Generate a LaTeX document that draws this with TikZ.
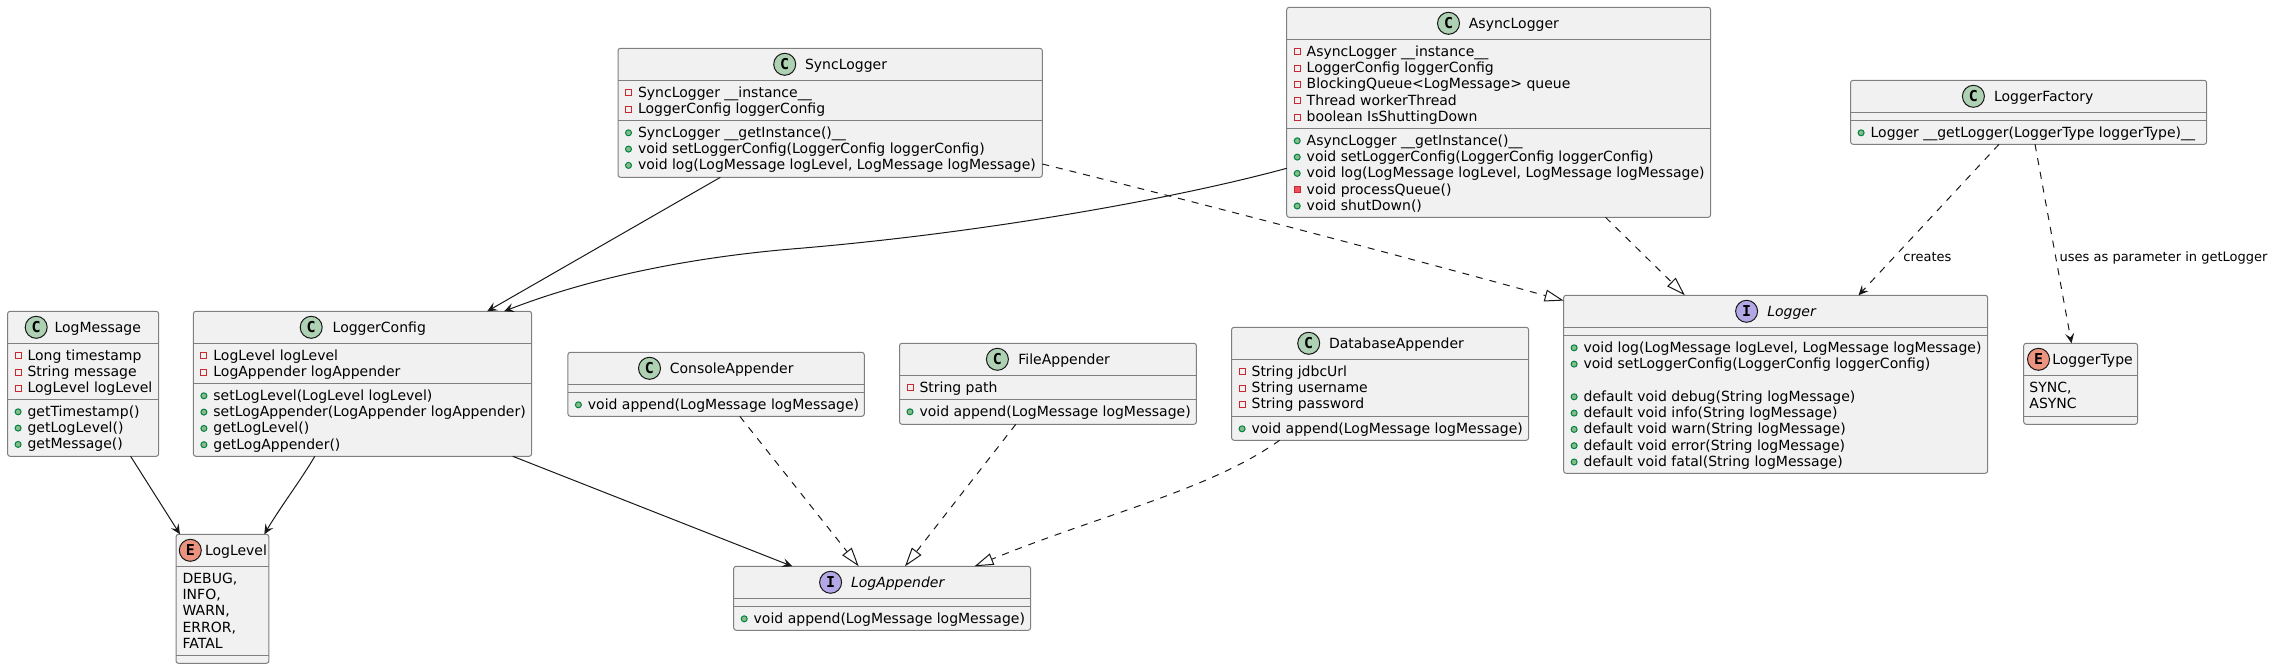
\documentclass[tikz,border=0pt]{standalone}
\usepackage{fontspec}
\setmainfont{DejaVu Sans}
\newfontfamily\letterfont{DejaVu Sans Mono}[Scale=1]
\usetikzlibrary{arrows.meta}
\definecolor{boxline}{HTML}{7F7F7F}
\definecolor{boxfill}{HTML}{F1F1F1}
\definecolor{ink}{HTML}{181818}
\definecolor{cclass}{HTML}{ADD1B2}
\definecolor{cenum}{HTML}{EB937F}
\definecolor{ciface}{HTML}{B4A7E5}
\definecolor{redline}{HTML}{C82930}
\definecolor{redfill}{HTML}{F24D5C}
\definecolor{greenline}{HTML}{038048}
\definecolor{greenfill}{HTML}{84BE84}
\tikzset{
  umlbox/.style={draw=boxline,fill=boxfill,line width=1pt,rounded corners=2.5pt,inner sep=0pt,outer sep=0pt,anchor=north west},
  sepline/.style={draw=boxline,line width=1pt},
  txt/.style={anchor=base west,inner sep=0pt,outer sep=0pt,font=\fontsize{14}{16}\selectfont,text=black},
  lbl/.style={anchor=base west,inner sep=0pt,outer sep=0pt,font=\fontsize{13}{15}\selectfont,text=black},
  badge/.style={circle,draw=ink,line width=1pt,minimum size=22pt,inner sep=0pt,font=\fontsize{15}{15}\letterfont\bfseries\selectfont,text=black},
  assoc/.style={draw=ink,line width=1pt,-{Stealth[length=10pt,width=9pt,inset=4pt]}},
  dep/.style={assoc,dash pattern=on 7pt off 7pt},
  impl/.style={draw=ink,line width=1pt,dash pattern=on 7pt off 7pt,-{Triangle[open,length=19pt,width=12pt,fill=white,line width=1pt]}},
  priv/.style={draw=redline,line width=1pt},
  privm/.style={draw=redline,fill=redfill,line width=1pt},
  pubm/.style={draw=greenline,fill=greenfill,line width=1pt},
}
\newcounter{tn}
\newcommand\umlclass[6]{%
  \node[umlbox,minimum width=#4pt-#2pt,minimum height=#5pt-#3pt] (#1) at (#2,#3) {};
  \draw[sepline] (#2,#6) -- (#4,#6);
}
\newcommand\sepat[3]{\draw[sepline] (#1,#3) -- (#2,#3);}
\newcommand\badge[5]{\node[badge,fill=#4] (#1b) at (#2,#3) {#5};}
\newcommand\titletxt[4]{\node[txt] (#1t) at (#2,#3) {#4};}
\newcommand\mline[3]{\stepcounter{tn}\node[txt] (m\arabic{tn}) at (#1,#2) {#3};}
\newcommand\FF[3]{\draw[priv] (#1+7.5,#2-7.5) rectangle (#1+13.5,#2-1.5);\mline{#1+20}{#2}{#3}}
\newcommand\MM[3]{\draw[privm] (#1+7.5,#2-7.5) rectangle (#1+13.5,#2-1.5);\mline{#1+20}{#2}{#3}}
\newcommand\PP[3]{\draw[pubm] (#1+10.5,#2-4.5) circle[radius=3pt];\mline{#1+20}{#2}{#3}}
\begin{document}
\begin{tikzpicture}[x=1pt,y=-1pt]
\useasboundingbox (0,0) rectangle (2273,669);

% SyncLogger
\umlclass{sync}{618}{48.3}{1042.3}{177.3}{80.3}
\sepat{618}{1042.3}{120.3}
\badge{sync}{784.7}{64.3}{cclass}{C}
\titletxt{sync}{805}{69.3}{SyncLogger}
\FF{618}{97.3}{SyncLogger \_\_instance\_\_}
\FF{618}{113.6}{LoggerConfig loggerConfig}
\PP{618}{137.3}{SyncLogger \_\_getInstance()\_\_}
\PP{618}{153.6}{void setLoggerConfig(LoggerConfig loggerConfig)}
\PP{618}{169.9}{void log(LogMessage logLevel, LogMessage logMessage)}

% AsyncLogger
\umlclass{async}{1286.7}{7.3}{1710.6}{217.3}{39.3}
\sepat{1286.7}{1710.6}{128.3}
\badge{async}{1448.5}{23.3}{cclass}{C}
\titletxt{async}{1468.9}{28.3}{AsyncLogger}
\FF{1286.7}{56.3}{AsyncLogger \_\_instance\_\_}
\FF{1286.7}{72.6}{LoggerConfig loggerConfig}
\FF{1286.7}{88.9}{BlockingQueue<LogMessage> queue}
\FF{1286.7}{105.2}{Thread workerThread}
\FF{1286.7}{121.5}{boolean IsShuttingDown}
\PP{1286.7}{145.3}{AsyncLogger \_\_getInstance()\_\_}
\PP{1286.7}{161.6}{void setLoggerConfig(LoggerConfig loggerConfig)}
\PP{1286.7}{177.9}{void log(LogMessage logLevel, LogMessage logMessage)}
\MM{1286.7}{194.2}{void processQueue()}
\PP{1286.7}{210.5}{void shutDown()}

% LoggerFactory
\umlclass{factory}{1850.6}{80.3}{2206.6}{144.3}{112.3}
\sepat{1850.6}{2206.6}{120.3}
\badge{factory}{1973.4}{96.3}{cclass}{C}
\titletxt{factory}{1994}{101.3}{LoggerFactory}
\PP{1850.6}{137.3}{Logger \_\_getLogger(LoggerType loggerType)\_\_}

% LogMessage
\umlclass{msg}{7.6}{311.3}{158.7}{456.3}{343.3}
\sepat{7.6}{158.7}{399.3}
\badge{msg}{36.2}{327.3}{cclass}{C}
\titletxt{msg}{54.6}{332.3}{LogMessage}
\FF{7.6}{360.3}{Long timestamp}
\FF{7.6}{376.6}{String message}
\FF{7.6}{392.9}{LogLevel logLevel}
\PP{7.6}{416.3}{getTimestamp()}
\PP{7.6}{432.6}{getLogLevel()}
\PP{7.6}{448.9}{getMessage()}

% LoggerConfig
\umlclass{config}{193.4}{311.3}{531.6}{456.3}{343.3}
\sepat{193.4}{531.6}{383.3}
\badge{config}{311.2}{327.3}{cclass}{C}
\titletxt{config}{332.7}{332.3}{LoggerConfig}
\FF{193.4}{360.3}{LogLevel logLevel}
\FF{193.4}{376.6}{LogAppender logAppender}
\PP{193.4}{400.3}{setLogLevel(LogLevel logLevel)}
\PP{193.4}{416.6}{setLogAppender(LogAppender logAppender)}
\PP{193.4}{432.9}{getLogLevel()}
\PP{193.4}{449.2}{getLogAppender()}

% LogLevel
\umlclass{level}{176}{534.3}{268.9}{663.3}{566.3}
\sepat{176}{268.9}{655.3}
\badge{level}{190.3}{550.3}{cenum}{E}
\titletxt{level}{205}{555.3}{LogLevel}
\mline{182.6}{583.3}{DEBUG,}
\mline{182.6}{599.6}{INFO,}
\mline{182.6}{615.9}{WARN,}
\mline{182.6}{632.2}{ERROR,}
\mline{182.6}{648.5}{FATAL}

% ConsoleAppender
\umlclass{console}{567.9}{352.3}{864.3}{416.3}{384.3}
\sepat{567.9}{864.3}{392.3}
\badge{console}{649.5}{368.3}{cclass}{C}
\titletxt{console}{669.9}{373.3}{ConsoleAppender}
\PP{567.9}{409.3}{void append(LogMessage logMessage)}

% FileAppender
\umlclass{file}{899.5}{343.3}{1196.4}{424.3}{375.3}
\sepat{899.5}{1196.4}{399.3}
\badge{file}{997.4}{359.3}{cclass}{C}
\titletxt{file}{1018.4}{364.3}{FileAppender}
\FF{899.5}{392.3}{String path}
\PP{899.5}{416.3}{void append(LogMessage logMessage)}

% DatabaseAppender
\umlclass{db}{1231.6}{327.3}{1528.6}{440.3}{359.3}
\sepat{1231.6}{1528.6}{416.3}
\badge{db}{1308.7}{343.3}{cclass}{C}
\titletxt{db}{1329}{348.3}{DatabaseAppender}
\FF{1231.6}{376.3}{String jdbcUrl}
\FF{1231.6}{392.6}{String username}
\FF{1231.6}{408.9}{String password}
\PP{1231.6}{433.3}{void append(LogMessage logMessage)}

% LogAppender
\umlclass{appender}{733.7}{566.3}{1030.6}{630.3}{598.3}
\sepat{733.7}{1030.6}{606.3}
\badge{appender}{830.6}{582.3}{ciface}{I}
\titletxt{appender}{851}{587.3}{\itshape LogAppender}
\PP{733.7}{623.3}{void append(LogMessage logMessage)}

% Logger
\umlclass{logger}{1563.6}{295.3}{1987.7}{473.3}{327.3}
\sepat{1563.6}{1987.7}{335.3}
\badge{logger}{1746.6}{311.3}{ciface}{I}
\titletxt{logger}{1767.3}{316.3}{\itshape Logger}
\PP{1563.6}{352.3}{void log(LogMessage logLevel, LogMessage logMessage)}
\PP{1563.6}{368.6}{void setLoggerConfig(LoggerConfig loggerConfig)}
\PP{1563.6}{401.3}{default void debug(String logMessage)}
\PP{1563.6}{417.6}{default void info(String logMessage)}
\PP{1563.6}{433.9}{default void warn(String logMessage)}
\PP{1563.6}{450.2}{default void error(String logMessage)}
\PP{1563.6}{466.5}{default void fatal(String logMessage)}

% LoggerType
\umlclass{ltype}{2023.7}{343.3}{2137.6}{424.3}{375.3}
\sepat{2023.7}{2137.6}{416.3}
\badge{ltype}{2038.5}{359.3}{cenum}{E}
\titletxt{ltype}{2052.3}{364.3}{LoggerType}
\mline{2029.4}{392.3}{SYNC,}
\mline{2029.4}{408.6}{ASYNC}

% Connectors
\draw[assoc] ([xshift=102.4pt]sync.south west) -- ([xshift=293.8pt]config.north west);
\draw[assoc] ([yshift=-56pt]async.west) .. controls (1170,200) and (980,233) .. (800,248.3) .. controls (690,257) and (590,278) .. ([xshift=310.6pt]config.north west);
\draw[assoc] ([xshift=123pt]msg.south west) -- ([xshift=4pt]level.north west);
\draw[assoc] ([xshift=121.4pt]config.south west) .. controls (301,480) and (281,506) .. ([xshift=88.3pt]level.north west);
\draw[assoc] ([xshift=319.4pt]config.south west) -- ([xshift=58.6pt]appender.north west);
\draw[impl] ([xshift=171.9pt]console.south west) -- ([xshift=125pt]appender.north west);
\draw[impl] ([xshift=116.3pt]file.south west) -- ([xshift=171.3pt]appender.north west);
\draw[impl] ([xshift=48pt]db.south west) .. controls (1210,490) and (1100,515) .. ([xshift=240.8pt]appender.north west);
\draw[impl] ([yshift=13.3pt]sync.south east) .. controls (1210,205.5) and (1390,253) .. ([yshift=-5.3pt]logger.north west);
\draw[impl] ([xshift=318.8pt]async.south west) -- ([xshift=121.3pt]logger.north west);
\draw[dep] ([xshift=148.4pt]factory.south west) -- ([xshift=294.9pt]logger.north west);
\draw[dep] ([xshift=184.4pt]factory.south west) -- ([xshift=47.8pt]ltype.north west);
\node[lbl] (creates) at (1903.4,261) {creates};
\node[lbl] (uses) at (2059.7,261) {uses as parameter in getLogger};
\end{tikzpicture}
\end{document}
